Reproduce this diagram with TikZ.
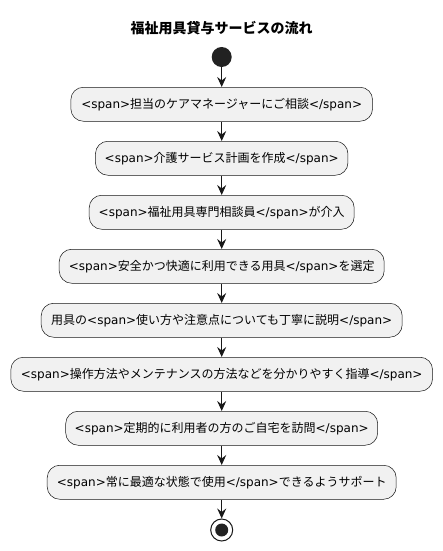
\documentclass[tikz,border=0pt]{standalone}
\usepackage{fontspec}
\setmainfont{Noto Sans CJK JP}
\newfontfamily\dv{DejaVu Sans}
\usetikzlibrary{arrows.meta}
\definecolor{boxfill}{HTML}{F1F1F1}
\definecolor{ink}{HTML}{181818}
\definecolor{dot}{HTML}{222222}
\newcommand{\os}{{\dv <span>}}
\newcommand{\cs}{{\dv </span>}}
\tikzset{
  actbox/.style={draw=ink, line width=0.5pt, fill=boxfill, rounded corners=12.5pt,
    minimum height=34pt, inner sep=0pt, font=\fontsize{12pt}{14pt}\selectfont, anchor=north},
  flow/.style={draw=ink, line width=1pt, -{Stealth[length=10pt,width=9pt,inset=3.5pt]}},
}
\begin{document}
\begin{tikzpicture}[x=1pt,y=-1pt]
\useasboundingbox (0,0) rectangle (442,551);
\node[font=\fontsize{14pt}{16pt}\selectfont\bfseries] (title) at (221.7,28) {福祉用具貸与サービスの流れ};
\node[circle, fill=dot, minimum size=20pt, inner sep=0pt] (start) at (221.7,57) {};
\node[actbox, minimum width=301.7pt] (b1) at (221.7,87) {\os 担当のケアマネージャーにご相談\cs};
\node[actbox, minimum width=252.5pt] (b2) at (221.7,141) {\os 介護サービス計画を作成\cs};
\node[actbox, minimum width=265pt] (b3) at (221.7,195) {\os 福祉用具専門相談員\cs が介入};
\node[actbox, minimum width=325pt] (b4) at (221.7,249) {\os 安全かつ快適に利用できる用具\cs を選定};
\node[actbox, minimum width=361pt] (b5) at (221.7,303) {用具の\os 使い方や注意点についても丁寧に説明\cs};
\node[actbox, minimum width=421.7pt] (b6) at (221.7,357) {\os 操作方法やメンテナンスの方法などを分かりやすく指導\cs};
\node[actbox, minimum width=312pt] (b7) at (221.7,411) {\os 定期的に利用者の方のご自宅を訪問\cs};
\node[actbox, minimum width=349pt] (b8) at (221.7,465) {\os 常に最適な状態で使用\cs できるようサポート};
\node[circle, draw=ink, line width=1pt, fill=white, minimum size=22pt, inner sep=0pt] (stop) at (221.7,530) {};
\node[circle, fill=dot, minimum size=13pt, inner sep=0pt] (stopin) at (stop.center) {};
\draw[flow] (start) -- (b1);
\draw[flow] (b1) -- (b2);
\draw[flow] (b2) -- (b3);
\draw[flow] (b3) -- (b4);
\draw[flow] (b4) -- (b5);
\draw[flow] (b5) -- (b6);
\draw[flow] (b6) -- (b7);
\draw[flow] (b7) -- (b8);
\draw[flow] (b8) -- (stop);
\end{tikzpicture}
\end{document}
